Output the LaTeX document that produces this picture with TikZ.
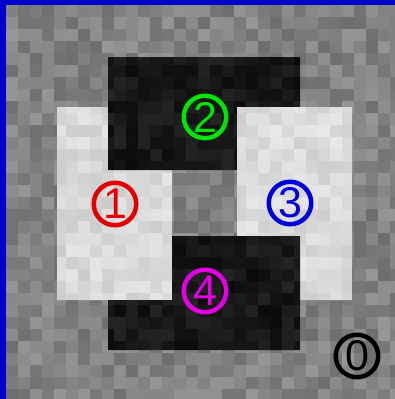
\documentclass[tikz,border=0pt]{standalone}
\usepackage{fontspec}
\setmainfont{Liberation Sans}
\definecolor{bordblue}{RGB}{0,0,204}
\definecolor{cred}{RGB}{228,0,0}
\definecolor{cgreen}{RGB}{0,228,0}
\definecolor{cblue}{RGB}{0,0,220}
\definecolor{cmag}{RGB}{228,0,228}
\tikzset{
  digit/.style={circle,draw=#1,text=#1,line width=4.5pt,minimum size=42.5pt,inner sep=0pt,
    font=\fontsize{43}{43}\selectfont},
}
\newcommand\noisearea[7]{% i0 i1 j0 j1 base amp : cells
  \foreach \i in {#1,...,#2}{\foreach \j in {#3,...,#4}{%
    \pgfmathsetmacro\g{#5+#6*rand}%
    \fill[white!\g!black] ({6+12*\i},{5+12*\j}) rectangle +(12.4,12.4);}}%
}
\begin{document}
\begin{tikzpicture}[x=1pt,y=-1pt]
\pgfmathsetseed{20231}
\useasboundingbox (0,0) rectangle (395,399);
% background noise
\noisearea{0}{32}{0}{32}{51}{8}{}
% white left (1)
\begin{scope}
\clip (57,107)--(108,107)--(108,170)--(172,170)--(172,300)--(57,300)--cycle;
\noisearea{4}{14}{8}{25}{85}{5}{}
\end{scope}
% dark top (2)
\begin{scope}
\clip (108,57)--(300,57)--(300,107)--(237,107)--(237,170)--(108,170)--cycle;
\noisearea{8}{24}{4}{14}{9}{5}{}
\end{scope}
% white right (3)
\begin{scope}
\clip (237,107)--(352,107)--(352,300)--(300,300)--(300,236)--(237,236)--cycle;
\noisearea{19}{29}{8}{25}{86}{5}{}
\end{scope}
% dark bottom (4)
\begin{scope}
\clip (172,236)--(300,236)--(300,350)--(108,350)--(108,300)--(172,300)--cycle;
\noisearea{8}{24}{19}{29}{9}{5}{}
\end{scope}
% blue border
\fill[bordblue] (0,0) rectangle (6,399);
\fill[bordblue] (0,0) rectangle (395,5);
% circled labels
\node[digit=cred] (c1) at (115,204) {1};
\node[digit=cgreen] (c2) at (205,117) {2};
\node[digit=cblue] (c3) at (290,203) {3};
\node[digit=cmag] (c4) at (205,291) {4};
\node[digit=black] (c0) at (357,356) {0};
\end{tikzpicture}
\end{document}
